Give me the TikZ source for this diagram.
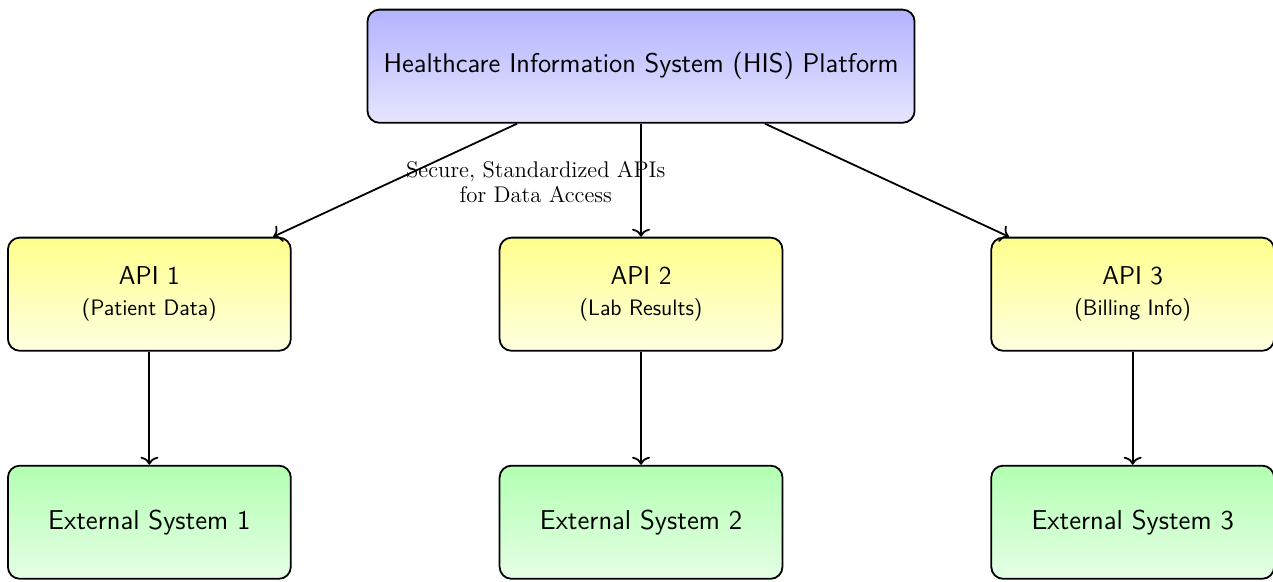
\documentclass[tikz,border=0pt]{standalone}
\usetikzlibrary{arrows.meta}
\begin{document}
\begin{tikzpicture}[
  box/.style={draw, line width=0.9pt, rounded corners=6pt, align=center,
    minimum width=5cm, minimum height=2cm, inner sep=2pt},
  hisbox/.style={box, minimum width=9.67cm, top color=blue!30, bottom color=blue!10,
    font=\sffamily\fontsize{13.6}{16}\selectfont},
  apibox/.style={box, top color=yellow!45, bottom color=yellow!12,
    font=\sffamily\fontsize{13}{15.6}\selectfont},
  extbox/.style={box, top color=green!30, bottom color=green!10,
    font=\sffamily\fontsize{13.7}{16}\selectfont},
  link/.style={-{To[length=4pt,width=9pt]}, line width=0.9pt},
  note/.style={align=center, font=\fontsize{11.4}{12.8}\selectfont}
]
\useasboundingbox (0,0) rectangle (22.5,-10.27);

% platform at the top
\node[hisbox] (his) at (11.33,-1.17) {Healthcare Information System (HIS) Platform};

% API layer
\node[apibox] (api1) at (2.64,-5.2) {API 1\\{\fontsize{11.25}{15.6}\selectfont (Patient Data)}};
\node[apibox] (api2) at (11.33,-5.2) {API 2\\{\fontsize{11.25}{15.6}\selectfont (Lab Results)}};
\node[apibox] (api3) at (20.02,-5.2) {API 3\\{\fontsize{11.25}{15.6}\selectfont (Billing Info)}};

% external consumers
\node[extbox] (ext1) at (2.64,-9.23) {External System 1};
\node[extbox] (ext2) at (11.33,-9.23) {External System 2};
\node[extbox] (ext3) at (20.02,-9.23) {External System 3};

% connectors
\draw[link] (his) -- (api1);
\draw[link] (his) -- (api2);
\draw[link] (his) -- (api3);
\draw[link] (api1) -- (ext1);
\draw[link] (api2) -- (ext2);
\draw[link] (api3) -- (ext3);

\node[note] (apinote) at (9.47,-3.22) {Secure, Standardized APIs\\for Data Access};
\end{tikzpicture}
\end{document}
